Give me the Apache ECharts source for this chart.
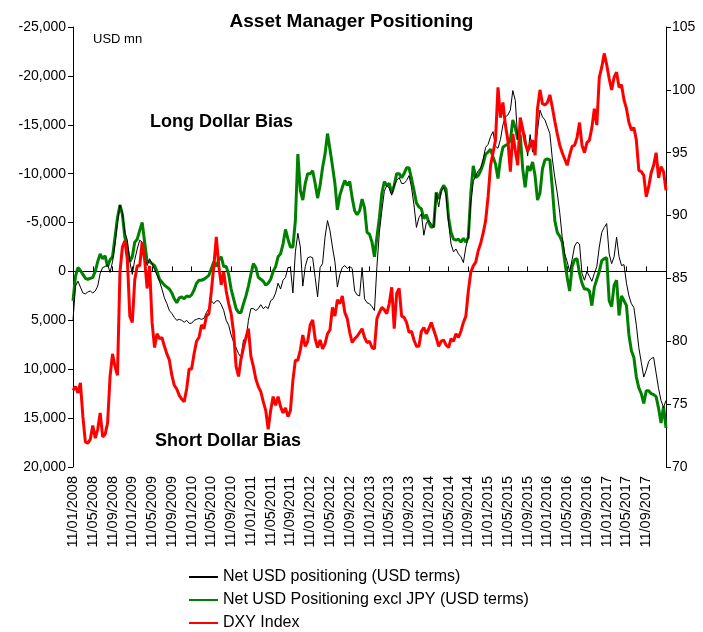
<!DOCTYPE html>
<html>
<head>
<meta charset="utf-8">
<title>Asset Manager Positioning</title>
<script src="https://cdn.jsdelivr.net/npm/echarts@6/dist/echarts.min.js"></script>
<style>
html, body { margin: 0; padding: 0; background: #fff; }
#chart { width: 703px; height: 632px; }
</style>
</head>
<body>
<div id="chart"></div>
<script>
var FONT = 'Liberation Sans';

// semi-monthly dates (11th and 26th), 11/01/2008 .. 11/01/2018
var dates = [];
for (var yr = 2008; yr <= 2017; yr++) {
    for (var mo = 1; mo <= 12; mo++) {
        var mm = mo < 10 ? '0' + mo : '' + mo;
        dates.push('11/' + mm + '/' + yr);
        dates.push('26/' + mm + '/' + yr);
    }
}
dates.push('11/01/2018');

var leftTicks = [-25000, 20000, 5000];   // min, max, step (USD mn, inverted)
var rightTicks = [70, 105, 5];           // min, max, step (DXY)

// Net USD positioning (USD terms), USD mn
var netUsd = [
    5000, 1500, 1000, 1600, 2200, 2300, 2100, 2000,
    2200, 2000, 1500, 200, -400, -500, -700, 100,
    -1000, -2800, -5000, -6800, -6000, -4000, -3200, -1000,
    300, -1200, -2300, -3200, -3000, -1500, -600, -1300,
    -800, -200, 400, 1000, 1800, 2700, 3300, 4000,
    4300, 4700, 5000, 4900, 5000, 5200, 5000, 5300,
    5300, 5000, 4900, 4800, 4900, 4800, 4200, 3800,
    3000, 3300, 3000, 3000, 3400, 4000, 5000, 5500,
    6500, 7200, 7800, 8400, 8800, 7000, 7000, 5000,
    3800, 3800, 4000, 3800, 3400, 3800, 3600, 3800,
    3000, 2800, 2200, 1200, 1800, 900, 600, -400,
    -400, 2200, -2000, -3900, -2500, 1500, -500, -1400,
    -1500, -1400, 600, 2600, -400, -800, -3500, -5200,
    -4200, -2500, -1000, 1600, 300, -400, -600, -300,
    -500, -300, 2000, 2400, 2500, -400, 2800, 3200,
    3300, 3600, 4000, -500, -4000, -6200, -8200, -8800,
    -8500, -7800, -8800, -9300, -9600, -9000, -9000, -9300,
    -9800, -8600, -6800, -4500, -5500, -5900, -3700, -5000,
    -5200, -4900, -4500, -8000, -6600, -8200, -8600, -7800,
    -5000, -2800, -2000, -2300, -1800, -1500, -900, -2500,
    -3500, -7000, -9200, -9800, -10300, -10600, -11500, -12700,
    -13000, -13800, -14300, -12800, -12600, -13500, -15000, -15800,
    -16000, -16500, -18500, -17500, -13500, -15400, -14000, -14000,
    -11800, -14000, -12200, -12600, -14400, -16500, -15800, -15500,
    -14800, -14100, -11500, -9600, -8000, -6000, -3500, -1800,
    -1000, 0, -1200, -2600, -3000, -2800, 200, 900,
    0, 500, 1000, 200, -500, -2500, -4000, -4500,
    -4900, -1800, -800, -1500, -3500, -1500, -600, -700,
    1200, 2500, 3300, 3700, 5500, 7800, 9300, 10800,
    10100, 9200, 8900, 8800, 10400, 12000, 13200, 13900,
    13200
];

// Net USD positioning excl JPY (USD terms), USD mn
var netUsdExJpy = [
    3000, 500, -400, -100, 300, 700, 800, 700,
    600, 0, -1000, -1800, -1300, -1600, -500, -1200,
    -1500, -3500, -5500, -6800, -5800, -3500, -2300, -1000,
    -1500, -3000, -3300, -4200, -5000, -3000, -1000, -1000,
    -800, -600, 0, 800, 1100, 1400, 1600, 1800,
    2200, 2800, 3200, 2700, 2600, 2800, 2500, 2600,
    2400, 1900, 1200, 900, 900, 800, 600, 400,
    -300, -1000, -500, -1200, -1500, -500, -500, 300,
    1800, 2800, 3800, 4200, 4200, 3300, 2500, 1500,
    300, -800, -400, 600, 800, 1000, 1400, 1200,
    800, 0, -500, -1500, -1800, -2800, -4300, -3300,
    -2500, -2500, -5200, -12000, -8300, -7300, -9000, -10000,
    -10000, -10300, -9000, -7500, -8800, -10600, -12000, -14100,
    -12500, -10800, -9000, -6300, -7800, -8600, -9300, -8800,
    -9200, -7500, -6200, -5800, -6200, -7400, -6500, -4000,
    -3800, -3000, -1500, -3500, -5500, -8000, -9200, -8800,
    -9000, -8000, -8800, -10000, -10000, -9600, -10000, -10600,
    -10600, -9500, -8300, -7000, -6600, -6400, -5400, -5800,
    -5000, -4500, -4600, -8100, -7400, -8300, -8800, -8400,
    -5500, -4000, -3300, -3200, -3300, -3000, -3400, -3000,
    -3500, -8000, -10800, -9600, -9800, -10300, -11000, -12000,
    -12200, -12500, -11700, -11000, -9500, -11500, -12700, -12900,
    -13000, -13400, -15500, -14700, -13500, -14000, -10500, -8600,
    -10800, -10300, -11200, -9800, -7300, -8000, -10500, -11400,
    -11500, -11400, -8500, -5200, -4000, -3600, -3000, -1100,
    600, 2000, -500, -1200, -1300, 200, 1200, 1800,
    1800, 2000, 3500, 1600, 800, 0, -1100, -1300,
    -1400, 3000, 3600, 1400, 900, 4500, 2500, 3000,
    3500, 6500, 8100, 8800, 10800, 11900, 12500, 13500,
    12200, 12200, 12500, 12600, 12800, 14000, 15500, 13800,
    16000
];

// DXY Index (right axis)
var dxy = [
    76.1, 76.4, 75.9, 76.7, 74.0, 72.0, 71.9, 72.2,
    73.3, 72.3, 73.0, 74.3, 72.4, 72.6, 73.5, 77.2,
    79.0, 78.0, 77.3, 85.5, 87.5, 88.0, 86.5, 82.0,
    81.5, 84.9, 86.0, 86.0, 87.9, 86.5, 84.2, 86.0,
    81.5, 79.5, 80.6, 80.2, 80.3, 79.6, 79.0, 78.5,
    77.3, 76.5, 76.2, 75.7, 75.4, 75.2, 76.2, 77.8,
    77.8, 79.0, 80.0, 80.3, 81.3, 81.0, 82.0, 82.2,
    84.0, 86.0, 88.3, 86.0, 84.5, 85.5, 84.0, 83.0,
    82.2, 80.7, 78.0, 77.2, 78.6, 79.5, 80.3, 81.0,
    78.8, 78.0, 77.0, 76.4, 76.0, 75.2, 74.5, 73.0,
    74.5, 75.6, 74.9, 75.6, 74.8, 74.3, 74.7, 74.0,
    74.5, 76.9, 78.5, 78.5, 79.3, 80.5, 79.6, 80.0,
    81.3, 81.7, 80.2, 79.5, 80.1, 79.4, 79.8, 80.6,
    80.9, 82.7, 82.0, 83.3, 83.0, 83.6, 82.3, 81.8,
    80.7, 79.9, 80.2, 80.4, 80.7, 81.0, 80.3, 79.9,
    80.0, 79.5, 79.4, 81.8, 82.3, 82.7, 82.5, 82.2,
    83.0, 84.3, 81.0, 83.8, 84.2, 82.0, 81.9, 81.5,
    80.7, 80.8, 80.1, 79.6, 79.6, 80.8, 81.1, 80.6,
    81.0, 81.5, 80.9, 80.3, 79.6, 80.0, 80.1, 79.7,
    79.5, 80.2, 80.0, 80.6, 80.3, 80.8, 81.5, 82.0,
    84.0, 85.5, 86.0, 86.3, 87.2, 87.8, 88.6, 89.6,
    91.5, 94.0, 95.0, 96.0, 100.2, 97.8, 99.0, 97.2,
    96.0, 93.5, 96.5, 95.2, 94.0, 97.8, 96.9, 95.8,
    95.1, 95.6, 96.0, 94.8, 98.5, 100.0, 98.9, 98.8,
    99.0, 99.6, 98.6, 97.5, 96.5, 95.6, 95.0, 94.5,
    94.0, 94.8, 95.5, 95.6, 96.2, 97.4, 95.6, 95.0,
    95.8, 96.0, 97.0, 98.5, 97.2, 101.0, 101.8, 102.9,
    102.0, 100.9, 100.0, 101.0, 101.4, 100.2, 100.4, 99.2,
    98.5, 97.4, 96.8, 97.0, 96.0, 93.6, 93.5, 93.2,
    91.5, 92.3, 93.4, 94.0, 95.0, 93.0, 93.9, 93.5,
    92.0
];

var seriesNames = ['Net USD positioning (USD terms)', 'Net USD Positioning excl JPY (USD terms)', 'DXY Index'];

function fmtThousands(v) {
    var s = String(Math.abs(v)).replace(/\B(?=(\d{3})+(?!\d))/g, ',');
    return (v < 0 ? '-' : '') + s;
}
// a label/tick every 4 months, none on the last date
function everyFourMonths(index) {
    return index % 8 === 0 && index < dates.length - 1;
}

createChart();

function createChart() {
    var option = {
        animation: false,
        backgroundColor: '#fff',
        textStyle: { fontFamily: FONT, color: '#000' },
        title: {
            text: 'Asset Manager Positioning',
            left: 'center',
            top: 7,
            textStyle: { fontFamily: FONT, fontSize: 19, fontWeight: 'bold', color: '#000' }
        },
        graphic: [
            { type: 'text', left: 93, top: 33, style: { text: 'USD mn', font: '13px ' + FONT, fill: '#000' } },
            { type: 'text', left: 150, top: 113, style: { text: 'Long Dollar Bias', font: 'bold 18px ' + FONT, fill: '#000' } },
            { type: 'text', left: 155, top: 432, style: { text: 'Short Dollar Bias', font: 'bold 18px ' + FONT, fill: '#000' } }
        ],
        legend: {
            orient: 'vertical',
            left: 183,
            top: 564,
            height: 80,
            itemWidth: 29,
            itemHeight: 14,
            itemGap: 7,
            itemStyle: { opacity: 0 },
            data: seriesNames,
            textStyle: { fontFamily: FONT, fontSize: 16, color: '#000' }
        },
        grid: { left: 73, right: 37, top: 27, bottom: 165, containLabel: false },
        xAxis: [{
            type: 'category',
            data: dates,
            boundaryGap: false,
            position: 'bottom',
            axisLine: { show: true, onZero: true, onZeroAxisIndex: 0, lineStyle: { color: '#000', width: 1 } },
            axisTick: { show: true, inside: true, length: 5, interval: everyFourMonths, lineStyle: { color: '#000' } },
            axisLabel: { show: false },
            splitLine: { show: false }
        }, {
            type: 'category',
            data: dates,
            boundaryGap: false,
            position: 'bottom',
            axisLine: { show: false, onZero: false },
            axisTick: { show: false },
            axisLabel: { show: true, rotate: 90, interval: everyFourMonths, margin: 9, fontFamily: FONT, fontSize: 14.5, color: '#000' },
            splitLine: { show: false }
        }],
        yAxis: [{
            type: 'value',
            position: 'left',
            inverse: true,
            min: leftTicks[0],
            max: leftTicks[1],
            interval: leftTicks[2],
            axisLine: { show: true, lineStyle: { color: '#000', width: 1 } },
            axisTick: { show: true, length: 5, lineStyle: { color: '#000' } },
            axisLabel: { margin: 7, fontFamily: FONT, fontSize: 14, color: '#000', formatter: fmtThousands },
            splitLine: { show: false }
        }, {
            type: 'value',
            position: 'right',
            min: rightTicks[0],
            max: rightTicks[1],
            interval: rightTicks[2],
            axisLine: { show: true, lineStyle: { color: '#000', width: 1 } },
            axisTick: { show: true, length: 5, lineStyle: { color: '#000' } },
            axisLabel: { margin: 6, fontFamily: FONT, fontSize: 14, color: '#000' },
            splitLine: { show: false }
        }],
        series: [{
            name: seriesNames[1],
            type: 'line',
            xAxisIndex: 0,
            yAxisIndex: 0,
            data: netUsdExJpy,
            symbol: 'none',
            itemStyle: { color: '#008000' },
            lineStyle: { color: '#008000', width: 3 },
            z: 2
        }, {
            name: seriesNames[0],
            type: 'line',
            xAxisIndex: 0,
            yAxisIndex: 0,
            data: netUsd,
            symbol: 'none',
            itemStyle: { color: '#000' },
            lineStyle: { color: '#000', width: 1 },
            z: 3
        }, {
            name: seriesNames[2],
            type: 'line',
            xAxisIndex: 0,
            yAxisIndex: 1,
            data: dxy,
            symbol: 'none',
            itemStyle: { color: '#ff0000' },
            lineStyle: { color: '#ff0000', width: 3 },
            z: 4
        }]
    };
    var chartDom = document.getElementById('chart');
    var echart = echarts.init(chartDom, null, { renderer: 'canvas' });
    echart.setOption(option, true);
}
</script>
</body>
</html>
